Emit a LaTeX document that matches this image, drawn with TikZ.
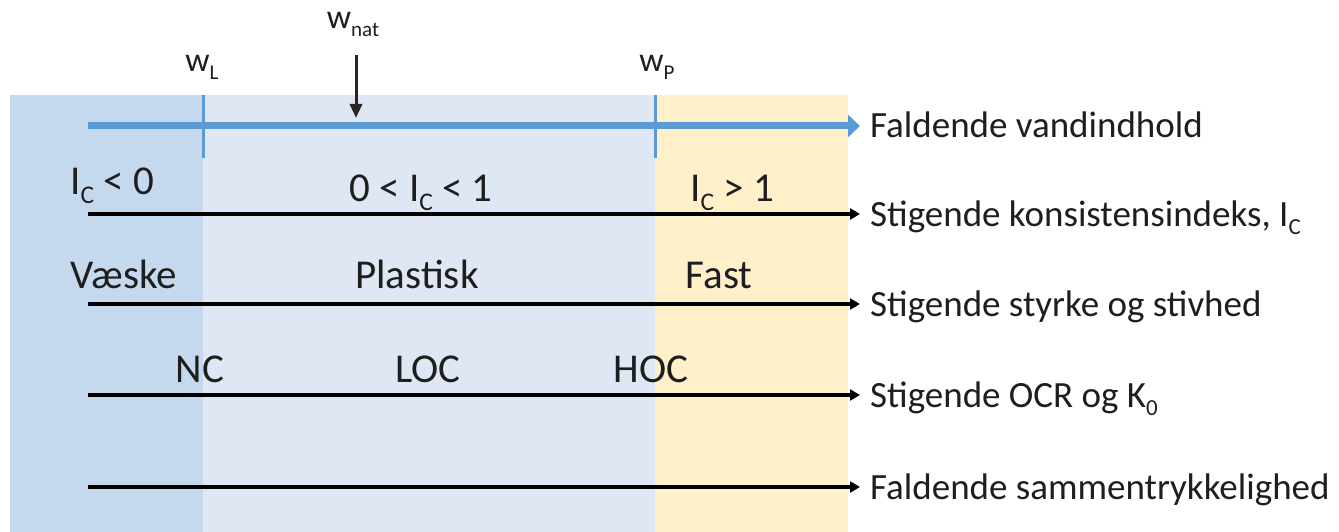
\documentclass[tikz,border=0pt]{standalone}
\usepackage{fontspec}
\usepackage{graphicx}
\setmainfont{Carlito}
\usetikzlibrary{arrows.meta}

\definecolor{liquidzone}{RGB}{197,217,238}
\definecolor{plasticzone}{RGB}{222,231,243}
\definecolor{solidzone}{RGB}{255,240,201}
\definecolor{waterline}{RGB}{91,155,213}
\definecolor{textgray}{RGB}{30,30,30}

% lowered, reduced subscript as used in I_C, w_L ...
\newcommand{\lsub}[1]{\raisebox{-0.22em}{\scalebox{0.62}{#1}}}

\tikzset{
  zonetext/.style={font=\fontsize{41}{47}\selectfont, text=textgray, anchor=base, inner sep=0pt},
  trendtext/.style={font=\fontsize{37}{43}\selectfont, text=textgray, anchor=base west, inner sep=0pt},
  limittext/.style={font=\fontsize{34}{38}\selectfont, text=textgray, anchor=base, inner sep=0pt},
  trendarrow/.style={line width=3.2pt, black, -{Triangle[length=10pt,width=11pt]}},
  waterarrow/.style={line width=7pt, waterline, -{Triangle[length=12pt,width=22pt]}},
  limittick/.style={line width=3pt, waterline},
  natarrow/.style={line width=3pt, black!85, -{Triangle[length=14pt,width=12pt]}}
}

\begin{document}
\begin{tikzpicture}[x=1pt,y=-1pt]
\useasboundingbox (0,0) rectangle (1339,532);

% consistency zones
\fill[liquidzone]  (10,95)  rectangle (203,532);
\fill[plasticzone] (203,95) rectangle (655,532);
\fill[solidzone]   (655,95) rectangle (848,532);

% water content axis with the two limits
\coordinate (w0) at (88,126);
\coordinate (w1) at (860,126);
\draw[waterarrow] (w0) -- (w1);
\coordinate (tL0) at (203,95);  \coordinate (tL1) at (203,158);
\coordinate (tP0) at (655,95);  \coordinate (tP1) at (655,158);
\draw[limittick] (tL0) -- (tL1);
\draw[limittick] (tP0) -- (tP1);

\node[limittext] (wL)   at (202,72) {w\lsub{L}};
\node[limittext] (wP)   at (657,72) {w\lsub{P}};
\node[limittext] (wnat) at (353,29) {w\lsub{nat}};
\coordinate (natS) at (356,55);
\coordinate (natE) at (356,118);
\draw[natarrow] (natS) -- (natE);

\node[trendtext] (t0) at (870,138) {Faldende vandindhold};

% consistency index
\node[zonetext] (ic1) at (112,194) {I\lsub{C} < 0};
\node[zonetext] (ic2) at (421,201) {0 < I\lsub{C} < 1};
\node[zonetext] (ic3) at (732,201) {I\lsub{C} > 1};
\coordinate (a1s) at (88,214);  \coordinate (a1e) at (860,214);
\draw[trendarrow] (a1s) -- (a1e);
\node[trendtext] (t1) at (870,226) {Stigende konsistensindeks, I\lsub{C}};

% state
\node[zonetext] (s1) at (124,288) {Væske};
\node[zonetext] (s2) at (417,288) {Plastisk};
\node[zonetext] (s3) at (719,288) {Fast};
\coordinate (a2s) at (88,304);  \coordinate (a2e) at (860,304);
\draw[trendarrow] (a2s) -- (a2e);
\node[trendtext] (t2) at (870,316) {Stigende styrke og stivhed};

% consolidation
\node[zonetext] (c1) at (200,382) {NC};
\node[zonetext] (c2) at (428,382) {LOC};
\node[zonetext] (c3) at (651,382) {HOC};
\coordinate (a3s) at (88,395);  \coordinate (a3e) at (860,395);
\draw[trendarrow] (a3s) -- (a3e);
\node[trendtext] (t3) at (870,407) {Stigende OCR og K\lsub{0}};

% compressibility
\coordinate (a4s) at (88,487);  \coordinate (a4e) at (860,487);
\draw[trendarrow] (a4s) -- (a4e);
\node[trendtext] (t4) at (870,499) {Faldende sammentrykkelighed};
\end{tikzpicture}
\end{document}
